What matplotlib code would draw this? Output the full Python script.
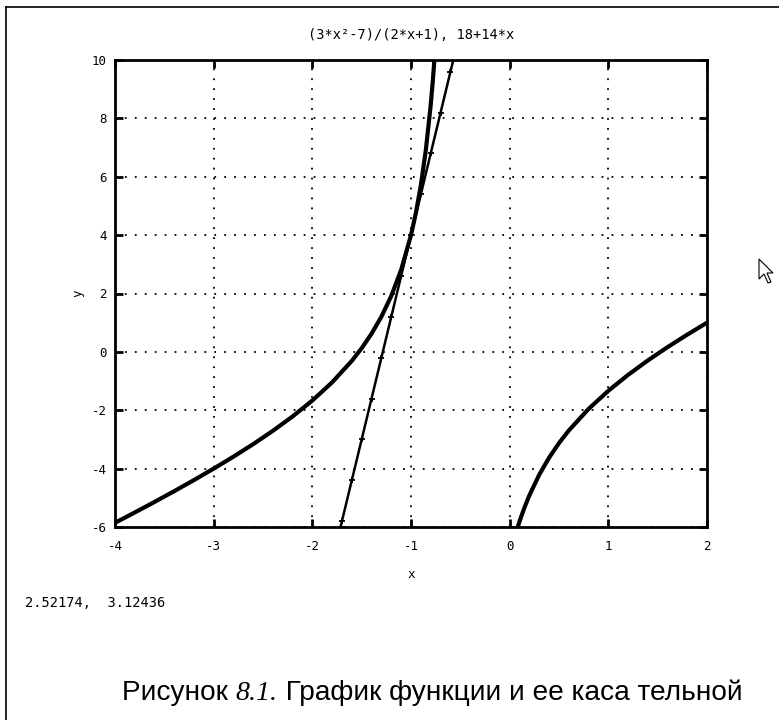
import matplotlib
matplotlib.use('Agg')
import matplotlib.pyplot as plt
from matplotlib.lines import Line2D
from matplotlib.patches import Polygon

plt.rcParams['axes.unicode_minus'] = False

# curve (3x^2-7)/(2x+1), points
left_x = [-4.0, -3.8, -3.6, -3.4, -3.2, -3.0, -2.8, -2.6, -2.4, -2.2, -2.0, -1.8, -1.6,
          -1.5, -1.4, -1.3, -1.2, -1.1, -1.0, -0.95, -0.9, -0.85, -0.8, -0.78, -0.76]
left_y = [-5.857, -5.503, -5.142, -4.772, -4.393, -4.0, -3.591, -3.162, -2.705, -2.212, -1.667,
          -1.046, -0.309, 0.125, 0.622, 1.206, 1.914, 2.808, 4.0, 4.769, 5.713, 6.904, 8.467,
          9.241, 10.129]
right_x = [0.08, 0.1, 0.15, 0.2, 0.3, 0.4, 0.5, 0.6, 0.8, 1.0, 1.2, 1.4, 1.6, 1.8, 2.0]
right_y = [-6.018, -5.808, -5.333, -4.914, -4.206, -3.622, -3.125, -2.691, -1.954, -1.333,
           -0.788, -0.295, 0.162, 0.591, 1.0]

# tangent 18+14x
tan_x = [-1.76, -1.7, -1.6, -1.5, -1.4, -1.3, -1.2, -1.1, -1.0, -0.9, -0.8, -0.7, -0.6, -0.55]
tan_y = [-6.64, -5.8, -4.4, -3.0, -1.6, -0.2, 1.2, 2.6, 4.0, 5.4, 6.8, 8.2, 9.6, 10.3]

x_ticks = [-4, -3, -2, -1, 0, 1, 2]
y_ticks = [-6, -4, -2, 0, 2, 4, 6, 8, 10]

fig = plt.figure(figsize=(7.79, 7.2), dpi=100)
ax = fig.add_axes([115 / 779, 1 - 527 / 720, 592 / 779, 467 / 720])

ax.plot(left_x, left_y, color='black', lw=3, solid_capstyle='butt')
ax.plot(right_x, right_y, color='black', lw=3, solid_capstyle='butt')
ax.plot(tan_x, tan_y, color='black', lw=1.8, marker='+', markersize=4, markeredgewidth=1.3)

ax.set_xlim(-4, 2)
ax.set_ylim(-6, 10)
ax.set_xticks(x_ticks)
ax.set_yticks(y_ticks)
ax.grid(True, color='black', linestyle=(0, (1, 4.5)), lw=1.3)
ax.tick_params(direction='in', length=6, width=2, top=True, right=True, labelsize=9)
ax.tick_params(axis='x', pad=9.5)
ax.tick_params(axis='y', pad=6)
for lab in ax.get_xticklabels() + ax.get_yticklabels():
    lab.set_family('DejaVu Sans Mono')
for s in ax.spines.values():
    s.set_linewidth(2)

ax.set_title('(3*x²-7)/(2*x+1), 18+14*x', fontsize=9.8, family='DejaVu Sans Mono', pad=15)
ax.set_xlabel('x', fontsize=9, family='DejaVu Sans Mono', labelpad=11)
ax.set_ylabel('y', fontsize=9, family='DejaVu Sans Mono', labelpad=5)

# window frame
fig.add_artist(Line2D([6 / 779, 1], [1 - 7 / 720, 1 - 7 / 720], color='black', lw=1.2,
                      transform=fig.transFigure))
fig.add_artist(Line2D([6 / 779, 6 / 779], [0, 1 - 7 / 720], color='black', lw=1.2,
                      transform=fig.transFigure))

# coordinates readout
fig.text(25 / 779, 1 - 603 / 720, '2.52174,  3.12436', fontsize=9.8,
         family='DejaVu Sans Mono', va='center')

# mouse cursor
cur = [(759, 259), (759, 279), (764, 274), (768, 283), (771, 282), (767, 273), (773, 273)]
fig.add_artist(Polygon([(px / 779, 1 - py / 720) for px, py in cur], closed=True,
                       facecolor='white', edgecolor='black', lw=0.8, transform=fig.transFigure))

# caption
t1 = fig.text(122 / 779, 1 - 700 / 720, 'Рисунок ', fontsize=20.2, family='Liberation Sans')
t2 = fig.text(0, 0, '8.1.', fontsize=20.2, family='Liberation Serif', style='italic')
t3 = fig.text(0, 0, ' График функции и ее каса тельной', fontsize=20.2, family='Liberation Sans')
fig.canvas.draw()
r = fig.canvas.get_renderer()
b1 = t1.get_window_extent(r)
t2.set_position((b1.x1 / fig.bbox.width, t1.get_position()[1]))
b2 = t2.get_window_extent(r)
t3.set_position((b2.x1 / fig.bbox.width, t1.get_position()[1]))

fig.savefig('out.png', dpi=100)
